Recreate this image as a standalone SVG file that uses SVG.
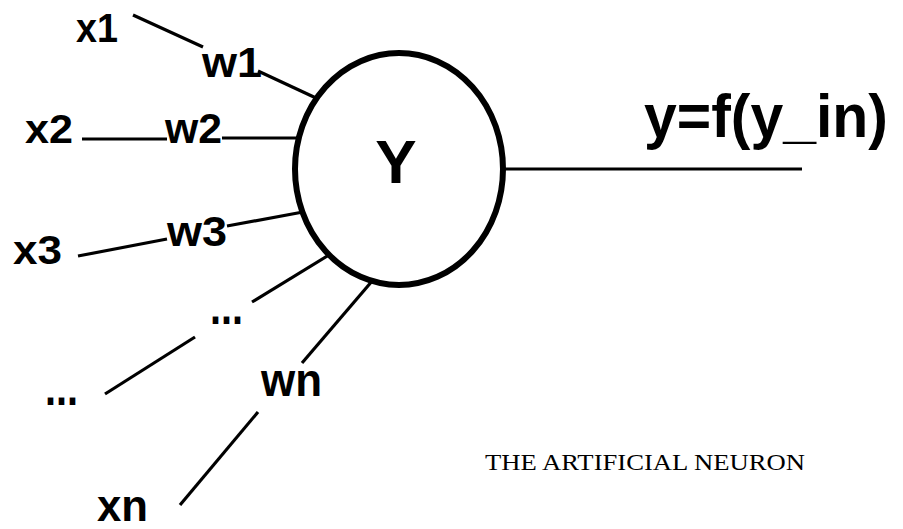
<svg xmlns="http://www.w3.org/2000/svg" width="903" height="529" viewBox="0 0 903 529">
<style>
.lbl{font-family:"Liberation Sans",Arial,sans-serif;font-weight:bold;fill:#000}
.edge{stroke:#000;stroke-width:3.2;fill:none;stroke-linecap:butt}
.title{font-family:"Liberation Serif","Times New Roman",serif;fill:#000}
</style>
<rect width="903" height="529" fill="#fff"/>
<g id="connectors">
  <line class="edge" x1="133" y1="15" x2="203" y2="47"/>
  <line class="edge" x1="258" y1="71" x2="316" y2="98"/>
  <line class="edge" x1="82" y1="139" x2="167" y2="139"/>
  <line class="edge" x1="222" y1="138" x2="298" y2="138"/>
  <line class="edge" x1="78" y1="256" x2="167" y2="239"/>
  <line class="edge" x1="227" y1="226" x2="303" y2="212"/>
  <line class="edge" x1="329" y1="255" x2="252" y2="302"/>
  <line class="edge" x1="195" y1="337" x2="105" y2="394"/>
  <line class="edge" x1="373" y1="280" x2="302" y2="363"/>
  <line class="edge" x1="258" y1="412" x2="180" y2="505"/>
  <line class="edge" x1="503" y1="169" x2="802" y2="169"/>
</g>
<g id="neuron">
  <ellipse cx="399" cy="169" rx="104" ry="116" fill="#fff" stroke="#000" stroke-width="6"/>
  <text class="lbl" x="396" y="183" font-size="62" text-anchor="middle">Y</text>
</g>
<g id="input-x1"><text class="lbl" x="76" y="42" font-size="40" textLength="42" lengthAdjust="spacingAndGlyphs">x1</text></g>
<g id="weight-w1"><text class="lbl" x="202" y="77" font-size="42" textLength="60" lengthAdjust="spacingAndGlyphs">w1</text></g>
<g id="input-x2"><text class="lbl" x="25" y="143" font-size="40" textLength="48" lengthAdjust="spacingAndGlyphs">x2</text></g>
<g id="weight-w2"><text class="lbl" x="165" y="143" font-size="42" textLength="57" lengthAdjust="spacingAndGlyphs">w2</text></g>
<g id="input-x3"><text class="lbl" x="13" y="264" font-size="40" textLength="49" lengthAdjust="spacingAndGlyphs">x3</text></g>
<g id="weight-w3"><text class="lbl" x="167" y="246" font-size="42" textLength="60" lengthAdjust="spacingAndGlyphs">w3</text></g>
<g id="weight-dots"><text class="lbl" x="210" y="324" font-size="50" textLength="33" lengthAdjust="spacingAndGlyphs">...</text></g>
<g id="input-dots"><text class="lbl" x="45" y="405" font-size="50" textLength="33" lengthAdjust="spacingAndGlyphs">...</text></g>
<g id="weight-wn"><text class="lbl" x="261" y="396" font-size="46" textLength="61" lengthAdjust="spacingAndGlyphs">wn</text></g>
<g id="input-xn"><text class="lbl" x="97" y="521" font-size="44" textLength="51" lengthAdjust="spacingAndGlyphs">xn</text></g>
<g id="output"><text class="lbl" x="644" y="137" font-size="62" textLength="244" lengthAdjust="spacingAndGlyphs">y=f(y_in)</text></g>
<g id="title"><text class="title" x="485" y="470" font-size="23" textLength="320" lengthAdjust="spacingAndGlyphs">THE ARTIFICIAL NEURON</text></g>
</svg>
